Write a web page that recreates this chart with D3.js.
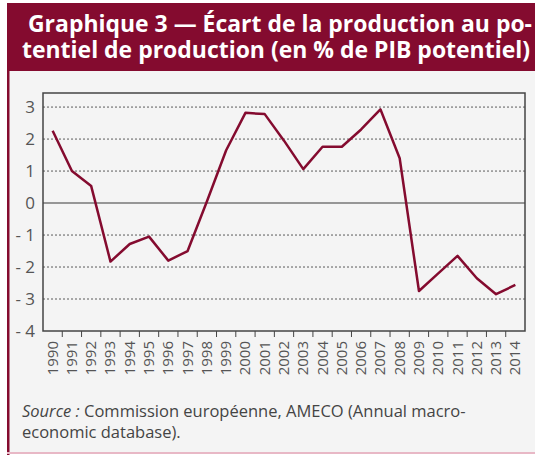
<!DOCTYPE html>
<html>
<head>
<meta charset="utf-8">
<script src="https://cdn.jsdelivr.net/npm/d3@7"></script>
<style>
  body { margin: 0; background: #fff; }
  svg { display: block; }
</style>
</head>
<body>
<div id="chart"></div>
<script>
// annees et ecart de production (% du PIB potentiel)
var years = ["1990","1991","1992","1993","1994","1995","1996","1997","1998","1999",
             "2000","2001","2002","2003","2004","2005","2006","2007","2008","2009",
             "2010","2011","2012","2013","2014"];
var gap = [2.26, 1.0, 0.53, -1.83, -1.28, -1.05, -1.8, -1.5, 0.05, 1.65,
           2.82, 2.78, 1.95, 1.06, 1.76, 1.76, 2.3, 2.93, 1.4, -2.75,
           -2.2, -1.65, -2.35, -2.85, -2.56];
var yTicks = [3, 2, 1, 0, -1, -2, -3, -4];

var W = 538, H = 455;
var red = "#840b2f";
var svg = d3.select("#chart").append("svg").attr("width", W).attr("height", H);

// fond du panneau
svg.append("rect").attr("x", 9).attr("y", 70).attr("width", 526).attr("height", 383).attr("fill", "#f4f4f4");
svg.append("rect").attr("x", 7).attr("y", 70).attr("width", 2.5).attr("height", 385).attr("fill", red);
svg.append("rect").attr("x", 7).attr("y", 452).attr("width", 528).attr("height", 2).attr("fill", "#e8b8c6");

// bandeau titre
svg.append("rect").attr("x", 7).attr("y", 3).attr("width", 528).attr("height", 68).attr("fill", red);
var title = svg.append("text").attr("fill", "#fff").attr("font-family", "Open Sans")
  .attr("font-weight", "bold").attr("font-size", 23).attr("text-anchor", "middle");
title.append("tspan").attr("x", 280).attr("y", 32)
  .attr("textLength", 504).attr("lengthAdjust", "spacingAndGlyphs")
  .text("Graphique 3 — Écart de la production au po-");
title.append("tspan").attr("x", 276).attr("y", 58)
  .attr("textLength", 508).attr("lengthAdjust", "spacingAndGlyphs")
  .text("tentiel de production (en % de PIB potentiel)");

var m = {left: 43, right: 525, top: 93, bottom: 331};
var x = d3.scaleBand().domain(years).range([m.left, m.right]);
var y = d3.scaleLinear().domain([-4, 3.44]).range([m.bottom, m.top]);

// grille
svg.append("g").selectAll("line").data(yTicks.filter(function(d){ return d > -4; })).join("line")
  .attr("x1", m.left).attr("x2", m.right)
  .attr("y1", function(d){ return y(d); }).attr("y2", function(d){ return y(d); })
  .attr("stroke", function(d){ return d === 0 ? "#777" : "#333"; })
  .attr("stroke-width", function(d){ return d === 0 ? 1.5 : 0.8; })
  .attr("stroke-dasharray", function(d){ return d === 0 ? null : "2,2"; });

// axe y
svg.append("g").selectAll("text").data(yTicks).join("text")
  .attr("x", 35).attr("y", function(d){ return y(d) + 6; })
  .attr("text-anchor", "end").attr("font-family", "Open Sans").attr("font-size", 17).attr("fill", "#555")
  .text(function(d){ return d < 0 ? "- " + Math.abs(d) : d; });

// axe x : graduations entre les annees
svg.append("g").selectAll("line").data(years.slice(1)).join("line")
  .attr("x1", function(d){ return x(d); }).attr("x2", function(d){ return x(d); })
  .attr("y1", m.bottom).attr("y2", m.bottom + 6).attr("stroke", "#444").attr("stroke-width", 1);
svg.append("g").selectAll("text").data(years).join("text")
  .attr("transform", function(d){ return "translate(" + (x(d) + x.bandwidth() / 2 + 5) + "," + (m.bottom + 10) + ") rotate(-90)"; })
  .attr("text-anchor", "end").attr("font-family", "Open Sans").attr("font-size", 15).attr("fill", "#555")
  .text(function(d){ return d; });

// cadre
svg.append("rect").attr("x", m.left).attr("y", m.top).attr("width", m.right - m.left).attr("height", m.bottom - m.top)
  .attr("fill", "none").attr("stroke", "#444").attr("stroke-width", 1.5);

// courbe
var line = d3.line()
  .x(function(d, i){ return x(years[i]) + x.bandwidth() / 2; })
  .y(function(d){ return y(d); });
svg.append("path").datum(gap).attr("fill", "none").attr("stroke", red).attr("stroke-width", 2.5)
  .attr("stroke-linejoin", "round").attr("d", line);

// source
var src = svg.append("text").attr("font-family", "Open Sans").attr("font-size", 16.5).attr("fill", "#444");
var l1 = src.append("tspan").attr("x", 22).attr("y", 417);
l1.append("tspan").attr("font-style", "italic").text("Source :");
l1.append("tspan").text(" Commission européenne, AMECO (Annual macro-");
src.append("tspan").attr("x", 22).attr("y", 438).text("economic database).");
</script>
</body>
</html>
